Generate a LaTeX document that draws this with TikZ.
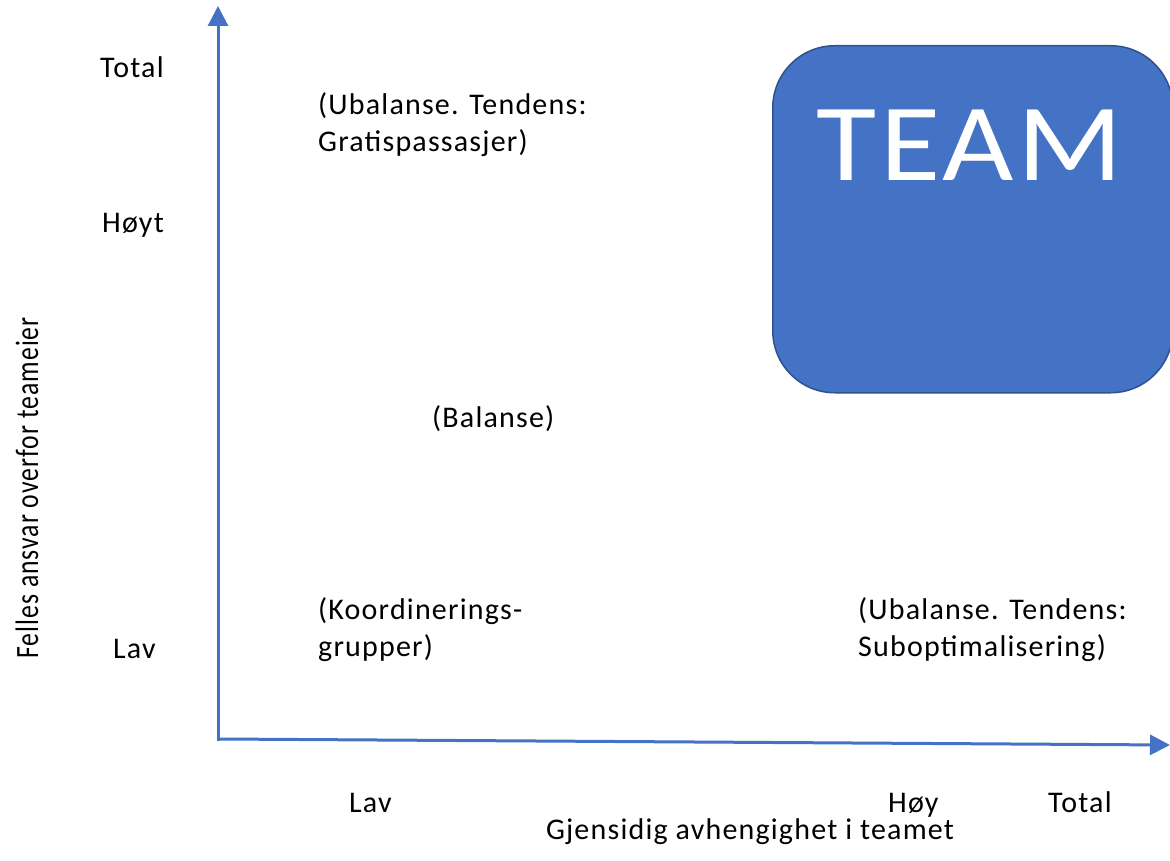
\documentclass[tikz,border=0pt]{standalone}
\usepackage{fontspec}
\setmainfont{Carlito}[LetterSpace=4]
\newfontfamily\bigfont{Carlito}[LetterSpace=3]
\usetikzlibrary{arrows.meta}
\definecolor{axisblue}{HTML}{4472C4}
\definecolor{boxedge}{HTML}{2F528F}
\tikzset{
  axis/.style={draw=axisblue, line width=3pt, -{Triangle[length=20pt,width=20pt]}},
  lbl/.style={inner sep=0pt, anchor=base west, font=\fontsize{30}{37}\selectfont},
  lblc/.style={inner sep=0pt, anchor=base, font=\fontsize{30}{37}\selectfont},
}
\begin{document}
\begin{tikzpicture}[x=1pt, y=-1pt]
\useasboundingbox (0,0) rectangle (1170,861);

% team box
\node[draw=boxedge, line width=1.5pt, fill=axisblue, rounded corners=62pt,
      minimum width=400pt, minimum height=347pt, anchor=north west, inner sep=0pt]
      (team) at (772,45) {};
\node[inner sep=0pt, anchor=base, text=white, font=\bigfont\fontsize{110}{110}\selectfont]
      (teamlabel) at (970,181) {\scalebox{1.12}[1]{TEAM}};

% axes
\coordinate (origin) at (218,741);
\coordinate (ytip) at (218,6);
\coordinate (xstart) at (220,739);
\coordinate (xtip) at (1170,745);
\draw[axis] (origin) -- (ytip);
\draw[axis] (xstart) -- (xtip);

% vertical scale
\node[lbl] (ytotal) at (100,78) {Total};
\node[lbl] (yhigh) at (102,233) {Høyt};
\node[lbl] (ylow) at (113,658) {Lav};

% horizontal scale
\node[lbl] (xlow) at (349,812) {Lav};
\node[lbl] (xhigh) at (888,812) {Høy};
\node[lbl] (xtotal) at (1048,812) {Total};

% axis titles
\node[lblc] (xtitle) at (750,839) {Gjensidig avhengighet i teamet};
\node[inner sep=0pt, anchor=base, rotate=90, font=\fontsize{32.5}{37}\selectfont]
      (ytitle) at (38,488) {\scalebox{0.79}[1]{Felles ansvar overfor teameier}};

% quadrant notes
\node[lbl] (freeride1) at (318,115) {(Ubalanse. Tendens:};
\node[lbl] (freeride2) at (318,152) {Gratispassasjer)};
\node[lbl] (balance) at (432,427) {(Balanse)};
\node[lbl] (coord1) at (318,619) {(Koordinerings-};
\node[lbl] (coord2) at (318,656) {grupper)};
\node[lbl] (subopt1) at (858,619) {(Ubalanse. Tendens:};
\node[lbl] (subopt2) at (858,656) {Suboptimalisering)};
\end{tikzpicture}
\end{document}
